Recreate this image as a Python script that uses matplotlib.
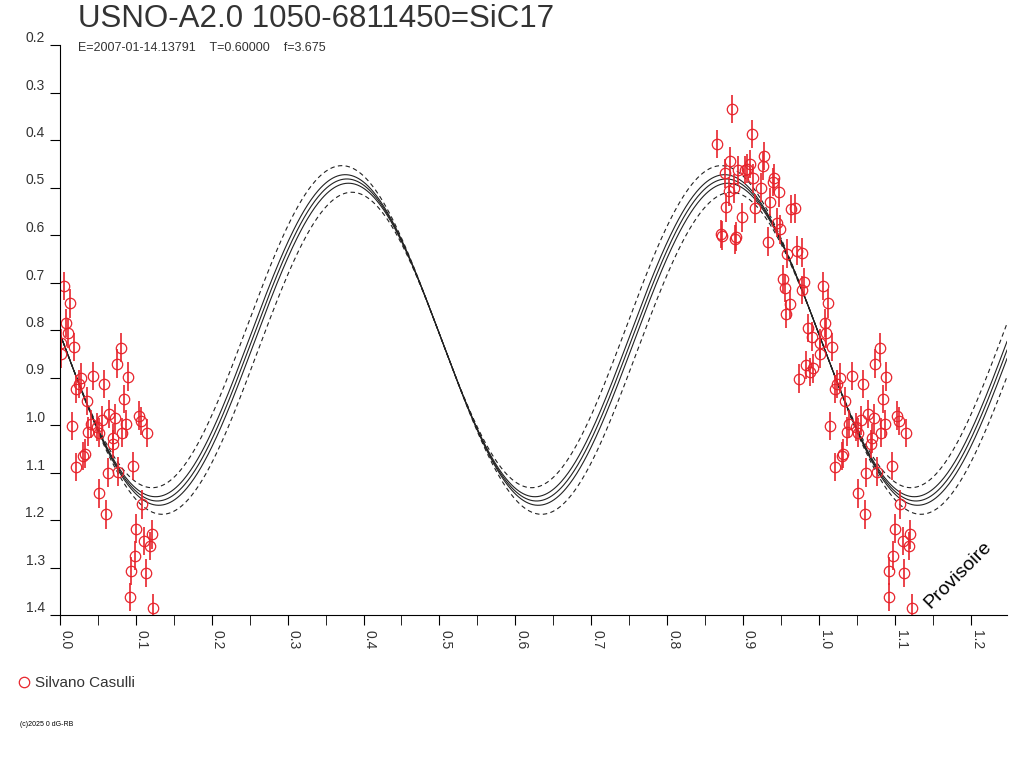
import numpy as np
import matplotlib.pyplot as plt
import matplotlib.transforms as mtransforms
from matplotlib.ticker import MultipleLocator

plt.rcParams['font.family'] = ['Liberation Sans', 'DejaVu Sans']

title = 'USNO-A2.0 1050-6811450=SiC17'
subtitle = 'E=2007-01-14.13791    T=0.60000    f=3.675'
observer = 'Silvano Casulli'
credit = '(c)2025 0 dG-RB'
stamp = 'Provisoire'

# observed phases (folded, 0.86 .. 1.12) and magnitudes
phase = [0.866, 0.8705, 0.8726, 0.876, 0.8783, 0.8814, 0.8827, 0.8854, 0.888, 0.890,
         0.8915, 0.8937, 0.8994, 0.9025, 0.9056, 0.9091, 0.9113, 0.9134, 0.916, 0.9236,
         0.9258, 0.928, 0.9332, 0.9354, 0.939, 0.9407, 0.945, 0.9473, 0.9486, 0.9526,
         0.9548, 0.9565, 0.958, 0.9618, 0.964, 0.969, 0.9706, 0.9736, 0.9772, 0.9785,
         0.981, 0.983, 0.9859, 0.988, 0.9912, 0.9925,
         1.0057, 1.0127, 1.0083, 1.0101, 1.0018, 1.018, 1.001, 1.028, 1.044, 1.0246,
         1.0215, 1.0584, 1.0351, 1.0154, 1.021, 1.030, 1.0325, 1.0373, 1.0404, 1.049,
         1.052, 1.0557, 1.065, 1.0725, 1.080, 1.0747, 1.0891, 1.0843, 1.0874, 1.0817,
         1.0703, 1.0694, 1.0628, 1.0769, 1.0966, 1.051, 1.0606, 1.1036, 1.1063, 1.1146,
         1.1076, 1.1001, 1.0984, 1.0931, 1.0926, 1.1107, 1.119, 1.1208, 1.1129, 1.1225]
mag = [0.408, 0.598, 0.6015, 0.470, 0.542, 0.508, 0.444, 0.335, 0.502, 0.609,
       0.6035, 0.463, 0.563, 0.463, 0.460, 0.4505, 0.387, 0.481, 0.544, 0.500,
       0.455, 0.434, 0.614, 0.531, 0.488, 0.481, 0.574, 0.510, 0.588, 0.693,
       0.712, 0.766, 0.639, 0.746, 0.545, 0.544, 0.633, 0.9025, 0.716, 0.637,
       0.699, 0.874, 0.796, 0.888, 0.814, 0.881,
       0.707, 0.744, 0.785, 0.807, 0.828, 0.836, 0.851, 0.900, 0.897, 0.914,
       0.924, 0.914, 0.949, 1.002, 1.088, 1.065, 1.060, 1.014, 0.998, 1.004,
       1.016, 0.990, 0.977, 0.986, 0.837, 0.871, 0.898, 0.945, 0.998, 1.016,
       1.028, 1.040, 1.100, 1.098, 1.086, 1.144, 1.188, 0.980, 0.992, 1.017,
       1.167, 1.218, 1.275, 1.307, 1.362, 1.244, 1.255, 1.230, 1.312, 1.385]
mag_err = 0.03

# fitted double wave and its envelope
fit_mean = 0.821
fit_amp = 0.339
fit_phase = 0.378
fit_offsets = [-0.028, -0.009, 0.0, 0.009, 0.028]

red = '#e8242c'
grey = '#333333'
xmax = 1.248

fig = plt.figure(figsize=(10.24, 7.68), dpi=100)
ax = fig.add_axes([60 / 1024, 1 - 615 / 768, (1007 - 60) / 1024, (615 - 45) / 768])

xs = np.linspace(0, xmax, 800)
for d in fit_offsets:
    shift = d / (4 * np.pi * fit_amp)
    ys = fit_mean + d - fit_amp * np.cos(4 * np.pi * (xs - fit_phase - shift))
    if abs(d) > 0.02:
        ax.plot(xs, ys, color='#222222', lw=0.8, dashes=(4, 3))
    else:
        ax.plot(xs, ys, color='#222222', lw=0.8)

ph = np.array(phase)
mg = np.array(mag)
for shift in (0.0, -1.0):
    p = ph + shift
    m = (p >= 0) & (p <= xmax)
    ax.errorbar(p[m], mg[m], yerr=mag_err, fmt='none', ecolor=red, elinewidth=1.2, capsize=0)
    ax.plot(p[m], mg[m], 'o', mfc='none', mec=red, ms=7.5, mew=0.9,
            label=observer if shift == 0 else None)

ax.set_xlim(0, xmax)
ax.set_ylim(1.4, 0.2)
ax.spines['top'].set_visible(False)
ax.spines['right'].set_visible(False)
ax.xaxis.set_major_locator(MultipleLocator(0.1))
ax.xaxis.set_minor_locator(MultipleLocator(0.05))
ax.yaxis.set_major_locator(MultipleLocator(0.1))
ax.xaxis.set_major_formatter(plt.FuncFormatter(lambda v, p: f'{v:.1f}'))
ax.yaxis.set_major_formatter(plt.FuncFormatter(lambda v, p: f'{v:.1f}'))
ax.tick_params(axis='x', which='both', length=7, direction='out', labelsize=10, pad=4, labelcolor=grey)
ax.tick_params(axis='y', length=7, direction='out', labelsize=10, pad=4, labelcolor=grey)
for t in ax.get_xticklabels():
    t.set_rotation(-90)
    t.set_va('top')
    t.set_transform(t.get_transform() + mtransforms.ScaledTranslation(6 / 100, 0, fig.dpi_scale_trans))
for t in ax.get_yticklabels():
    t.set_va('bottom')

fig.text(78 / 1024, 1 - 19 / 768, title, fontsize=22.5, color=grey, va='center')
fig.text(78 / 1024, 1 - 48 / 768, subtitle, fontsize=9, color=grey, va='center')
fig.text(958 / 1024, 1 - 575 / 768, stamp, fontsize=14, rotation=45, ha='center', va='center')
fig.text(20 / 1024, 1 - 725 / 768, credit, fontsize=5, va='center')

ax.legend(loc='center left', bbox_to_anchor=(18 / 1024, 1 - 683 / 768), bbox_transform=fig.transFigure,
          frameon=False, handlelength=0.8, handletextpad=0.3, fontsize=11, borderpad=0, borderaxespad=0,
          labelcolor=grey)

fig.savefig('out.png', dpi=100)
